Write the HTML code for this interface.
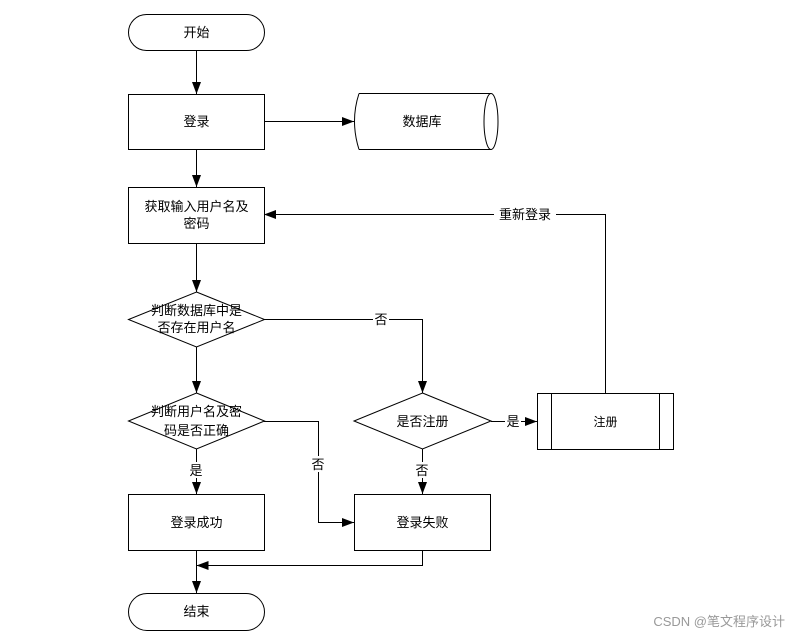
<!DOCTYPE html>
<html><head><meta charset="utf-8"><style>
html,body{margin:0;padding:0;background:#fff;}
svg text{font-family:"Liberation Sans","Noto Sans CJK SC",sans-serif;font-size:13px;fill:#000;}
</style></head><body>
<svg width="791" height="636" viewBox="0 0 791 636" xmlns="http://www.w3.org/2000/svg">
<defs><marker id="a" markerWidth="10" markerHeight="10" refX="9" refY="5" orient="auto" markerUnits="userSpaceOnUse"><path d="M0,0 L10,5 L0,10 z" fill="#000"/></marker>
<marker id="b" markerWidth="12" markerHeight="16" refX="16" refY="6" orient="auto" markerUnits="userSpaceOnUse" viewBox="0 0 16 12"><path d="M0,0 L16,6 L0,12 z" fill="#000"/></marker></defs>
<g fill="#fff" stroke="#000" stroke-width="1">
<rect x="128.5" y="14.5" width="136" height="36" rx="18"/>
<rect x="128.5" y="94.5" width="136" height="55"/>
<path d="M359,93.5 H491 M359,149.5 H491 M359,93.5 Q350,121 359,149.5"/>
<ellipse cx="491" cy="121.5" rx="7" ry="28"/>
<rect x="128.5" y="187.5" width="136" height="56"/>
<polygon points="196.5,292 264.5,319.5 196.5,347 128.5,319.5"/>
<polygon points="196.5,393 264.5,421 196.5,449 128.5,421"/>
<polygon points="422.5,393 491,421 422.5,449 354,421"/>
<rect x="537.5" y="393.5" width="136" height="56"/>
<path d="M551.5,393.5 V449.5 M659.5,393.5 V449.5"/>
<rect x="128.5" y="494.5" width="136" height="56"/>
<rect x="354.5" y="494.5" width="136" height="56"/>
<rect x="128.5" y="593.5" width="136" height="37" rx="18.5"/>
</g>
<g fill="none" stroke="#000" stroke-width="1">
<path d="M196.5,50 V94" marker-end="url(#b)"/>
<path d="M264,121.5 H354" marker-end="url(#b)"/>
<path d="M196.5,149 V187" marker-end="url(#b)"/>
<path d="M196.5,243 V292" marker-end="url(#b)"/>
<path d="M196.5,347 V393" marker-end="url(#b)"/>
<path d="M264,319.5 H422.5 V393" marker-end="url(#b)"/>
<path d="M605.5,393 V214.5 H264" marker-end="url(#b)"/>
<path d="M491,421.5 H537" marker-end="url(#b)"/>
<path d="M422.5,449 V494" marker-end="url(#b)"/>
<path d="M196.5,449 V494" marker-end="url(#b)"/>
<path d="M264,421.5 H318.5 V522.5 H354" marker-end="url(#b)"/>
<path d="M196.5,550 V593" marker-end="url(#b)"/>
<path d="M422.5,550 V565.5 H196.5" marker-end="url(#b)"/>
</g>
<g fill="#fff"><rect x="373" y="312" width="16" height="15"/><rect x="494" y="206" width="62" height="16"/><rect x="505" y="413" width="16" height="16"/><rect x="414" y="462" width="16" height="16"/><rect x="310" y="456" width="16" height="16"/><rect x="188" y="462" width="16" height="16"/></g>
<g text-anchor="middle">
<text x="196.5" y="37">开始</text>
<text x="196.5" y="126">登录</text>
<text x="422" y="126">数据库</text>
<text x="196.5" y="211">获取输入用户名及</text>
<text x="196.5" y="228">密码</text>
<text x="196.5" y="315">判断数据库中是</text>
<text x="196.5" y="332">否存在用户名</text>
<text x="196.5" y="416">判断用户名及密</text>
<text x="196.5" y="435">码是否正确</text>
<text x="422.5" y="426">是否注册</text>
<text x="605.5" y="426" style="font-size:12px">注册</text>
<text x="196.5" y="527">登录成功</text>
<text x="422.5" y="527">登录失败</text>
<text x="196.5" y="616">结束</text>
<text x="381" y="324">否</text>
<text x="525" y="219">重新登录</text>
<text x="513" y="426">是</text>
<text x="422" y="475">否</text>
<text x="318" y="469">否</text>
<text x="196" y="475">是</text>
</g>
<text x="785" y="626" text-anchor="end" style="font-size:13px;fill:#999">CSDN @笔文程序设计</text>
</svg>
</body></html>
